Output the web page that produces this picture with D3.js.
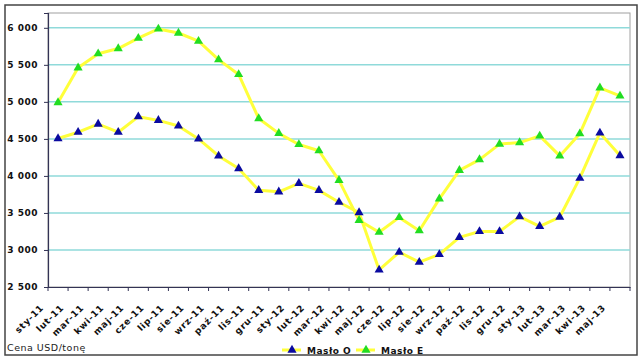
<!DOCTYPE html>
<html><head><meta charset="utf-8">
<script src="https://cdn.jsdelivr.net/npm/d3@7"></script>
<style>body{margin:0;background:#fff}svg{display:block}</style>
</head><body>
<svg id="c" width="640" height="360"></svg>
<script>
const categories = ["sty-11","lut-11","mar-11","kwi-11","maj-11","cze-11","lip-11","sie-11","wrz-11","paź-11","lis-11","gru-11","sty-12","lut-12","mar-12","kwi-12","maj-12","cze-12","lip-12","sie-12","wrz-12","paź-12","lis-12","gru-12","sty-13","lut-13","mar-13","kwi-13","maj-13"];
const masloO = [4505,4590,4700,4590,4800,4750,4675,4500,4270,4100,3805,3785,3900,3805,3645,3505,2730,2970,2835,2940,3170,3250,3250,3450,3320,3445,3970,4580,4275];
const masloE = [4990,5460,5650,5720,5860,5985,5930,5820,5570,5370,4775,4575,4425,4340,3940,3400,3240,3440,3260,3690,4075,4220,4430,4450,4540,4270,4570,5190,5080];
const yTicks = [2500,3000,3500,4000,4500,5000,5500,6000];
const seriesNames = ["Masło O","Masło E"];
const yLabel = "Cena USD/tonę";

const svg = d3.select("#c");
const L = 48, R = 630, T = 13, B = 287;
const x = d3.scaleBand().domain(categories).range([L, R]);
const y = d3.scaleLinear().domain([2500, 6200]).range([B, T]);
const fmt = v => d3.format(",")(v).replace(/,/g, " ");
const FF = "DejaVu Sans, Verdana, sans-serif";

// outer frame
svg.append("rect").attr("x",5).attr("y",5).attr("width",632).attr("height",350)
  .attr("fill","#fff").attr("stroke","#444").attr("stroke-width",1.5);

// plot border
svg.append("rect").attr("x",L).attr("y",T).attr("width",R-L).attr("height",B-T)
  .attr("fill","none").attr("stroke","#a0a0a0").attr("stroke-width",1);

// grid
svg.append("g").selectAll("line").data(yTicks.filter(d=>d>2500)).join("line")
  .attr("x1",L).attr("x2",R).attr("y1",d=>y(d)).attr("y2",d=>y(d))
  .attr("stroke","#8fdada").attr("stroke-width",1.5);

// y axis
const ya = svg.append("g").attr("transform",`translate(${L},0)`)
  .call(d3.axisLeft(y).tickValues(yTicks).tickFormat(fmt).tickSize(4).tickPadding(6));
ya.select(".domain").attr("stroke","#333355").attr("stroke-width",1.2);
ya.selectAll(".tick line").attr("stroke","#333355");
ya.selectAll("text").attr("font-family",FF).attr("letter-spacing","0.5px")
  .attr("font-weight","bold").attr("font-size","9px").attr("fill","#111");

// x axis
const xa = svg.append("g").attr("transform",`translate(0,${B})`)
  .call(d3.axisBottom(x).tickSize(0).tickFormat(""));
xa.select(".domain").attr("stroke","#333355").attr("stroke-width",1.2);
xa.selectAll(".tick").remove();
const edges = categories.map(c=>x(c)).concat([R]);
xa.selectAll("line.t").data(edges).join("line").attr("class","t")
  .attr("x1",d=>d).attr("x2",d=>d).attr("y1",0).attr("y2",4).attr("stroke","#333355");
xa.selectAll("text.lab").data(categories).join("text").attr("class","lab")
  .attr("transform",d=>`translate(${x(d)+x.bandwidth()/2-16},${19}) rotate(-45)`)
  .attr("text-anchor","end").attr("dy","0.35em").attr("letter-spacing","0.7px")
  .attr("font-family",FF).attr("font-weight","bold")
  .attr("font-size","9px").attr("fill","#111").text(d=>d);

const cx = d => x(d) + x.bandwidth()/2;
const line = d3.line().x((d,i)=>cx(categories[i])).y(d=>y(d));
const colors = ["#0a0aa0","#22dd22"];
const tri = d3.symbol().type(d3.symbolTriangle).size(36);

[masloO, masloE].forEach((s,k)=>{
  svg.append("path").datum(s).attr("d",line).attr("fill","none")
    .attr("stroke","#ffff3a").attr("stroke-width",3).attr("stroke-linejoin","round");
});
[masloO, masloE].forEach((s,k)=>{
  svg.append("g").selectAll("path").data(s).join("path")
    .attr("d",tri).attr("transform",(d,i)=>`translate(${cx(categories[i])},${y(d)})`)
    .attr("fill",colors[k]);
});

// legend
const lg = svg.append("g");
const lx = [282, 356];
seriesNames.forEach((n,k)=>{
  lg.append("line").attr("x1",lx[k]).attr("x2",lx[k]+19).attr("y1",350).attr("y2",350)
    .attr("stroke","#ffff3a").attr("stroke-width",3);
  lg.append("path").attr("d",tri).attr("transform",`translate(${lx[k]+10},350)`).attr("fill",colors[k]);
  lg.append("text").attr("x",lx[k]+25).attr("y",353.5).text(n).attr("letter-spacing","0.5px")
    .attr("font-family",FF).attr("font-weight","bold")
    .attr("font-size","9px").attr("fill","#111");
});
svg.append("text").attr("x",7).attr("y",351).text(yLabel).attr("letter-spacing","0.5px")
  .attr("font-family",FF).attr("font-size","9.5px").attr("fill","#222");
</script>
</body></html>
